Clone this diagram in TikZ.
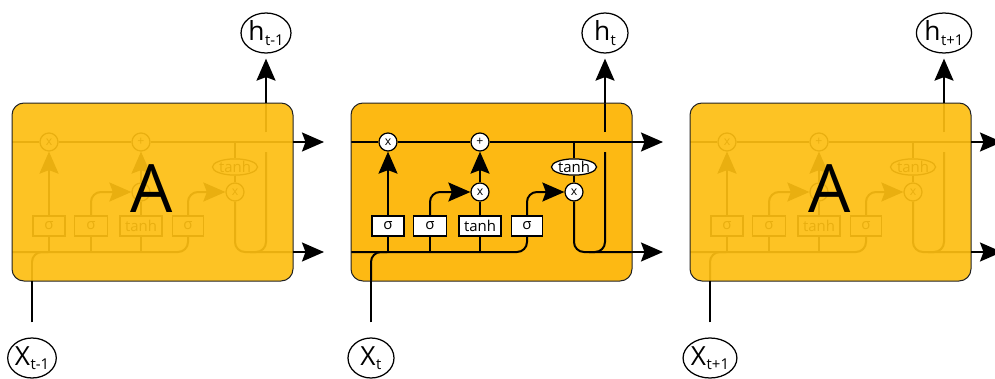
\documentclass[tikz,border=0pt]{standalone}
\usepackage{fontspec}
\setmainfont{Open Sans}
\usetikzlibrary{arrows.meta,shapes.geometric,calc}
\definecolor{cellbg}{HTML}{FDB913}
\definecolor{fadebg}{HTML}{FDC324}
\definecolor{fadeln}{HTML}{E9AF10}
\definecolor{bdr}{HTML}{222222}
\colorlet{bgc}{cellbg}
\colorlet{ln}{black}
\colorlet{nf}{white}
\newcommand{\lowsub}[1]{\kern0.3pt\raisebox{-2.6pt}{\fontsize{8.5}{8.5}\selectfont #1}}
\tikzset{
  >={Stealth[length=0.44cm,width=0.38cm,inset=0.07cm]},
  wire/.style={line width=0.04cm, draw=ln},
  owire/.style={line width=0.04cm, draw=black},
  gate/.style={circle, draw=ln, fill=nf, line width=0.025cm, minimum size=0.36cm, inner sep=0pt, text=ln, font=\fontsize{7}{7}\selectfont},
  layer/.style={rectangle, draw=ln, fill=nf, line width=0.025cm, minimum width=#1, minimum height=0.4cm, inner sep=0pt, text=ln, font=\fontsize{8.5}{8.5}\selectfont},
  tanhe/.style={ellipse, draw=ln, fill=nf, line width=0.025cm, minimum width=0.9cm, minimum height=0.3cm, inner sep=0pt, text=ln, font=\fontsize{8.5}{8.5}\selectfont},
  io/.style={ellipse, draw=black, fill=white, line width=0.025cm, minimum width=0.92cm, minimum height=0.8cm, inner sep=0pt, font=\fontsize{15}{15}\selectfont},
  cellbox/.style={rounded corners=0.24cm},
  bigA/.style={inner sep=0pt, font=\fontsize{38}{38}\selectfont, text=black}
}
\newcommand{\lstmcell}[4]{%
\begin{scope}[shift={(#2,0)}, name prefix=#1-]
  \fill[bgc, cellbox] (351,103) rectangle (632,281);
  \coordinate (cL) at (351,142);
  \coordinate (cR) at (632,142);
  \coordinate (cT) at (663,142);
  \coordinate (bL) at (351,252);
  \coordinate (bR) at (632,252);
  \coordinate (bT) at (663,252);
  \coordinate (hB) at (605,103);
  \coordinate (xB) at (371,281);
  \node[gate] (fx) at (388,142) {x};
  \node[gate] (ip) at (480,142) {+};
  \node[gate] (im) at (480,192) {x};
  \node[gate] (om) at (574,192) {x};
  \node[tanhe] (th) at (574,167) {tanh};
  \node[layer=0.64cm] (s1) at (388,226) {σ};
  \node[layer=0.66cm] (s2) at (430,226) {σ};
  \node[layer=0.84cm] (tb) at (480,226) {tanh};
  \node[layer=0.62cm] (s3) at (527,226) {σ};
  \draw[wire] (cL) -- (fx);
  \draw[wire] (fx) -- (ip);
  \draw[wire] (ip) -- (cR);
  \draw[wire] (th.north |- cL) -- (th);
  \draw[wire] (th) -- (om);
  \draw[wire] (s1) -- (s1 |- bL);
  \draw[wire] (s2) -- (s2 |- bL);
  \draw[wire] (tb) -- (tb |- bL);
  \draw[wire,->] (s1) -- (fx);
  \draw[wire,->,rounded corners=0.2cm] (s2.north) -- (s2.north |- im) -- (im);
  \draw[wire] (tb) -- (im);
  \draw[wire,->] (im) -- (ip);
  \draw[wire,->,rounded corners=0.2cm] (s3.north) -- (s3.north |- om) -- (om);
  \draw[wire,rounded corners=0.2cm] (bL) -- (s3.south |- bL) -- (s3.south);
  \draw[wire,rounded corners=0.2cm] (om) -- (om |- bL) -- (bR);
  \draw[wire,rounded corners=0.2cm] ($(hB |- bL)+(-16,0)$) -- (hB |- bL) -- ($(hB |- cL)+(0,10)$);
  \draw[wire] ($(hB |- cL)+(0,-10)$) -- (hB);
  \draw[wire,rounded corners=0.2cm] (xB) -- (xB |- bL) -- ($(xB |- bL)+(16,0)$);
  \draw[bdr, line width=0.02cm, cellbox] (351,103) rectangle (632,281);
  \node[io] (h) at (605,33) {h\lowsub{#3}};
  \node[io] (X) at (371,358) {X\lowsub{#4}};
  \draw[owire,->] (cR) -- (cT);
  \draw[owire,->] (bR) -- (bT);
  \draw[owire,->,shorten >=0.1cm] (hB) -- (h);
  \draw[owire,shorten <=0.3cm] (X) -- (xB);
\end{scope}}
\begin{document}
\begin{tikzpicture}[x=0.02cm,y=-0.02cm]
\useasboundingbox (0,0) rectangle (995,379);
\begin{scope}
  \colorlet{bgc}{fadebg}\colorlet{ln}{fadeln}\colorlet{nf}{fadebg}
  \lstmcell{L}{-339}{t-1}{t-1}
  \node[bigA] (LA) at (152,189) {A};
\end{scope}
\lstmcell{M}{0}{t}{t}
\begin{scope}
  \colorlet{bgc}{fadebg}\colorlet{ln}{fadeln}\colorlet{nf}{fadebg}
  \lstmcell{R}{339}{t+1}{t+1}
  \node[bigA] (RA) at (830,189) {A};
\end{scope}
\end{tikzpicture}
\end{document}
